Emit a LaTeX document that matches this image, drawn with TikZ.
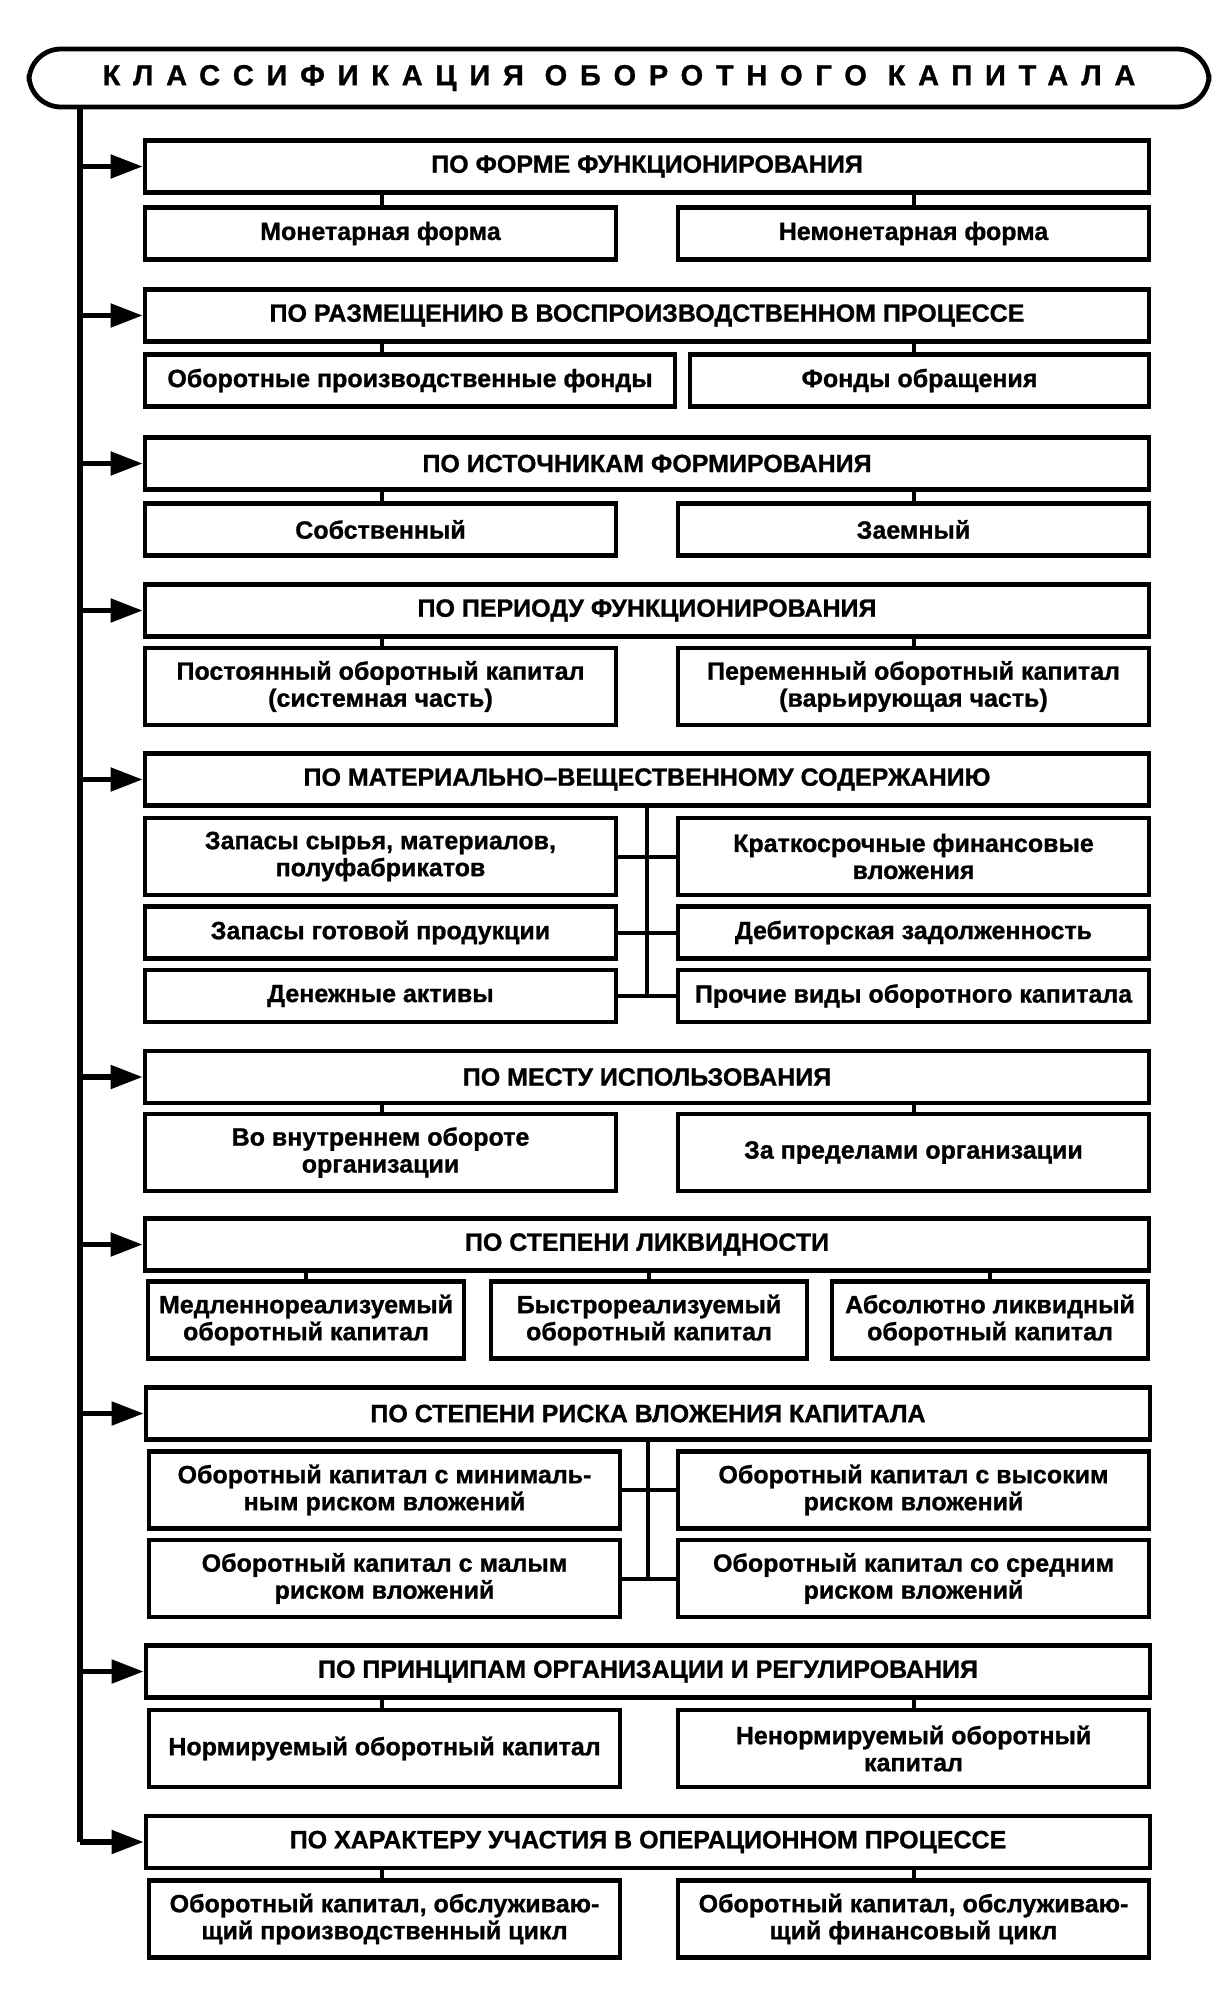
\documentclass[tikz,border=0pt]{standalone}
\usepackage{fontspec}
\setmainfont{Liberation Sans}[BoldFeatures={FakeBold=1}]
\usetikzlibrary{arrows.meta}

\begin{document}
\begin{tikzpicture}[x=0.5pt,y=-0.5pt,
    box/.style={draw, line width=2.4pt, inner sep=0pt, align=center,
      font=\bfseries\fontsize{12.5}{13.5}\selectfont},
    hdr/.style={box, minimum width=502pt, minimum height=26pt},
    half/.style={box, minimum width=235.5pt},
    third/.style={box, minimum width=158pt},
    low/.style={minimum height=26pt},
    tall/.style={minimum height=38.5pt},
    con/.style={line width=2pt},
    arr/.style={line width=2.6pt, -{Triangle[length=16pt,width=11.5pt]}}]
    \useasboundingbox (0,0) rectangle (1230,2002);

    \node[draw, line width=2.4pt, rounded corners=16pt, minimum width=590pt,
      minimum height=29pt, inner sep=0pt,
      font=\bfseries\fontsize{14.5}{15}\selectfont] (title) at (619,78)
      {\addfontfeature{LetterSpace=44}КЛАССИФИКАЦИЯ ОБОРОТНОГО КАПИТАЛА};
    \coordinate (trunk) at (80,0);
    \coordinate (xa) at (382,0);
    \coordinate (xb) at (914,0);

    % headers
    \node[hdr] (h1) at (647,166.5) {ПО ФОРМЕ ФУНКЦИОНИРОВАНИЯ};
    \node[hdr] (h2) at (647,315.5) {ПО РАЗМЕЩЕНИЮ В ВОСПРОИЗВОДСТВЕННОМ ПРОЦЕССЕ};
    \node[hdr] (h3) at (647,463.5) {ПО ИСТОЧНИКАМ ФОРМИРОВАНИЯ};
    \node[hdr] (h4) at (647,610.5) {ПО ПЕРИОДУ ФУНКЦИОНИРОВАНИЯ};
    \node[hdr] (h5) at (647,779.5) {ПО МАТЕРИАЛЬНО--ВЕЩЕСТВЕННОМУ СОДЕРЖАНИЮ};
    \node[hdr] (h6) at (647,1077) {ПО МЕСТУ ИСПОЛЬЗОВАНИЯ};
    \node[hdr] (h7) at (647,1244.5) {ПО СТЕПЕНИ ЛИКВИДНОСТИ};
    \node[hdr] (h8) at (648,1413.5) {ПО СТЕПЕНИ РИСКА ВЛОЖЕНИЯ КАПИТАЛА};
    \node[hdr] (h9) at (648,1671.5) {ПО ПРИНЦИПАМ ОРГАНИЗАЦИИ И РЕГУЛИРОВАНИЯ};
    \node[hdr] (h10) at (648,1842) {ПО ХАРАКТЕРУ УЧАСТИЯ В ОПЕРАЦИОННОМ ПРОЦЕССЕ};

    % trunk and arrows
    \draw[line width=2.6pt] (title.south -| trunk) -- (h10.west -| trunk);
    \foreach \i in {1,...,10}
        \draw[arr] (h\i.west -| trunk) -- (h\i.west);

    % sub boxes
    \node[half, low] (l1) at (380.5,233.5) {Монетарная форма};
    \node[half, low] (r1) at (913.5,233.5) {Немонетарная форма};

    \node[box, low, minimum width=265pt] (l2) at (410,380.5) {Оборотные производственные фонды};
    \node[box, low, minimum width=229.5pt] (r2) at (919.5,380.5) {Фонды обращения};

    \node[half, low] (l3) at (380.5,529.5) {Собственный};
    \node[half, low] (r3) at (913.5,529.5) {Заемный};

    \node[half, tall] (l4) at (380.5,686.5) {Постоянный оборотный капитал\\(системная часть)};
    \node[half, tall] (r4) at (913.5,686.5) {Переменный оборотный капитал\\(варьирующая часть)};

    \node[half, tall] (l51) at (380.5,856.5) {Запасы сырья, материалов,\\полуфабрикатов};
    \node[half, tall] (r51) at (913.5,856.5) {Краткосрочные финансовые\\вложения};
    \node[half, low] (l52) at (380.5,932.5) {Запасы готовой продукции};
    \node[half, low] (r52) at (913.5,932.5) {Дебиторская задолженность};
    \node[half, low] (l53) at (380.5,996) {Денежные активы};
    \node[half, low] (r53) at (913.5,996) {Прочие виды оборотного капитала};

    \node[half, tall] (l6) at (380.5,1152.5) {Во внутреннем обороте\\организации};
    \node[half, tall] (r6) at (913.5,1152.5) {За пределами организации};

    \node[third, tall] (l7) at (306,1320) {Медленнореализуемый\\оборотный капитал};
    \node[third, tall] (m7) at (649,1320) {Быстрореализуемый\\оборотный капитал};
    \node[third, tall] (r7) at (990,1320) {Абсолютно ликвидный\\оборотный капитал};

    \node[half, tall] (l81) at (384.5,1490) {Оборотный капитал с минималь-\\ным риском вложений};
    \node[half, tall] (r81) at (913.5,1490) {Оборотный капитал с высоким\\риском вложений};
    \node[half, tall] (l82) at (384.5,1578.5) {Оборотный капитал с малым\\риском вложений};
    \node[half, tall] (r82) at (913.5,1578.5) {Оборотный капитал со средним\\риском вложений};

    \node[half, tall] (l9) at (384.5,1748.5) {Нормируемый оборотный капитал};
    \node[half, tall] (r9) at (913.5,1748.5) {Ненормируемый оборотный\\капитал};

    \node[half, tall] (l10) at (384.5,1919) {Оборотный капитал, обслуживаю-\\щий производственный цикл};
    \node[half, tall] (r10) at (913.5,1919) {Оборотный капитал, обслуживаю-\\щий финансовый цикл};

    % connectors
    \foreach \i in {1,2,3,4,6,9,10} {
        \draw[con] (h\i.south -| xa) -- (l\i.north -| xa);
        \draw[con] (h\i.south -| xb) -- (r\i.north -| xb);
    }
    \foreach \n in {l7,m7,r7}
        \draw[con] (\n.north) -- (\n.north |- h7.south);

    \draw[con] (h5.south) -- (h5.south |- l53.east);
    \draw[con] (l51.east) -- (r51.west);
    \draw[con] (l52.east) -- (r52.west);
    \draw[con] (l53.east) -- (r53.west);

    \draw[con] (h8.south) -- (h8.south |- l82.east);
    \draw[con] (l81.east) -- (r81.west);
    \draw[con] (l82.east) -- (r82.west);
\end{tikzpicture}
\end{document}
